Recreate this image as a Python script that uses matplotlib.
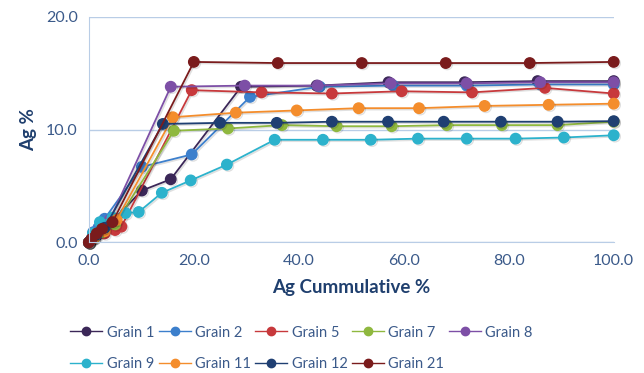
import matplotlib
matplotlib.use("Agg")
import matplotlib.pyplot as plt
import matplotlib.patheffects as pe

plt.rcParams["font.family"] = ["Lato", "DejaVu Sans"]

# Ag cumulative % (x) vs Ag % (y), one pair of lists per grain
g1_x = [0, 0.5, 1.5, 3.0, 10.1, 15.6, 29.0, 43.4, 57.1, 71.6, 85.5, 100]
g1_y = [0, 0.2, 0.6, 1.2, 4.6, 5.6, 13.8, 13.9, 14.2, 14.2, 14.3, 14.3]
g2_x = [0, 0.8, 1.8, 3.0, 10.1, 19.6, 30.7, 44.0, 58.0, 72.0, 86.0, 100]
g2_y = [0, 0.9, 1.3, 2.1, 6.7, 7.8, 12.9, 13.8, 13.9, 13.9, 14.0, 14.0]
g5_x = [0, 1.0, 3.0, 5.0, 6.2, 19.6, 32.9, 46.3, 59.6, 73.0, 86.9, 100]
g5_y = [0, 0.4, 0.8, 1.1, 1.4, 13.5, 13.3, 13.2, 13.4, 13.3, 13.7, 13.2]
g7_x = [0, 1.0, 2.5, 5.0, 16.2, 26.5, 36.8, 47.2, 57.7, 68.2, 78.7, 89.3, 100]
g7_y = [0, 0.4, 0.9, 1.6, 9.9, 10.1, 10.4, 10.3, 10.3, 10.4, 10.4, 10.4, 10.7]
g8_x = [0, 1.0, 2.5, 4.0, 15.6, 29.7, 43.6, 57.5, 72.0, 86.0, 100]
g8_y = [0, 0.7, 1.3, 2.0, 13.8, 13.9, 13.9, 14.1, 14.1, 14.2, 14.2]
g9_x = [0, 0.8, 2.1, 4.5, 7.0, 9.5, 13.9, 19.4, 26.3, 35.4, 44.6, 53.7, 62.7, 72.0, 81.3, 90.5, 100]
g9_y = [0, 0.8, 1.8, 2.2, 2.6, 2.7, 4.4, 5.5, 6.9, 9.1, 9.1, 9.1, 9.2, 9.2, 9.2, 9.3, 9.5]
g11_x = [0, 1.0, 3.0, 5.3, 16.0, 28.0, 39.6, 51.4, 62.9, 75.4, 87.6, 100]
g11_y = [0, 0.4, 1.0, 2.0, 11.1, 11.5, 11.7, 11.9, 11.9, 12.1, 12.2, 12.3]
g12_x = [0, 0.5, 1.5, 3.0, 14.1, 25.0, 35.8, 46.3, 57.0, 67.6, 78.5, 89.3, 100]
g12_y = [0, 0.3, 0.7, 1.3, 10.5, 10.6, 10.6, 10.7, 10.7, 10.7, 10.7, 10.7, 10.75]
g21_x = [0, 0.5, 1.5, 2.5, 4.5, 20.0, 36.0, 52.0, 68.0, 84.0, 100]
g21_y = [0, 0.3, 0.8, 1.2, 1.8, 16.0, 15.9, 15.9, 15.9, 15.9, 16.0]

names = ["Grain 1", "Grain 2", "Grain 5", "Grain 7", "Grain 8",
         "Grain 9", "Grain 11", "Grain 12", "Grain 21"]
xs = [g1_x, g2_x, g5_x, g7_x, g8_x, g9_x, g11_x, g12_x, g21_x]
ys = [g1_y, g2_y, g5_y, g7_y, g8_y, g9_y, g11_y, g12_y, g21_y]
colors = ["#3b2758", "#3c7fcc", "#c7393c", "#8fb83f", "#7d4fa6",
          "#2cb2cc", "#f48d2c", "#1f3f72", "#7a1b1c"]

txt = "#3b5a8a"
grid = "#b9cde6"

fig = plt.figure(figsize=(6.44, 3.73), dpi=100)
ax = fig.add_axes([0.138, 0.35, 0.815, 0.605])

shadow = [pe.SimpleLineShadow(offset=(1, -1), alpha=0.12), pe.Normal()]
handles = []
for x, y, c, n in zip(xs, ys, colors, names):
    h, = ax.plot(x, y, color=c, lw=1.3, marker="o", ms=7.5, mec=c,
                 label=n, path_effects=shadow, clip_on=False)
    handles.append(h)

ax.set_xlim(0, 100)
ax.set_ylim(0, 20)
ax.set_xticks(range(0, 101, 20))
ax.set_yticks([0, 10, 20])
ax.set_xticklabels([f"{v:.1f}" for v in range(0, 101, 20)])
ax.set_yticklabels(["0.0", "10.0", "20.0"])
ax.tick_params(length=0, colors=txt, labelsize=11.5, pad=8)
ax.grid(axis="y", color=grid, lw=1)
ax.set_axisbelow(True)
for s in ["top", "right"]:
    ax.spines[s].set_visible(False)
for s in ["left", "bottom"]:
    ax.spines[s].set_color(grid)

ax.set_xlabel("Ag Cummulative %", fontsize=13.5, fontweight="bold", color="#1f3f6e", labelpad=8)
ax.set_ylabel("Ag %", fontsize=13.5, fontweight="bold", color="#1f3f6e", labelpad=6)

# row-major legend order for a 5-column, 2-row layout
order = [0, 5, 1, 6, 2, 7, 3, 8, 4]
leg_handles = []
for i in order:
    lh, = plt.plot([], [], color=colors[i], lw=1.0, marker="o", ms=6)
    leg_handles.append(lh)
leg = fig.legend(leg_handles, [names[i] for i in order],
                 loc="lower center", bbox_to_anchor=(0.468, -0.03), ncol=5,
                 frameon=False, fontsize=10.5, handlelength=2.2,
                 columnspacing=0.3, handletextpad=0.3, labelspacing=1.2)
for t in leg.get_texts():
    t.set_color(txt)

fig.savefig("out.png", dpi=100)
